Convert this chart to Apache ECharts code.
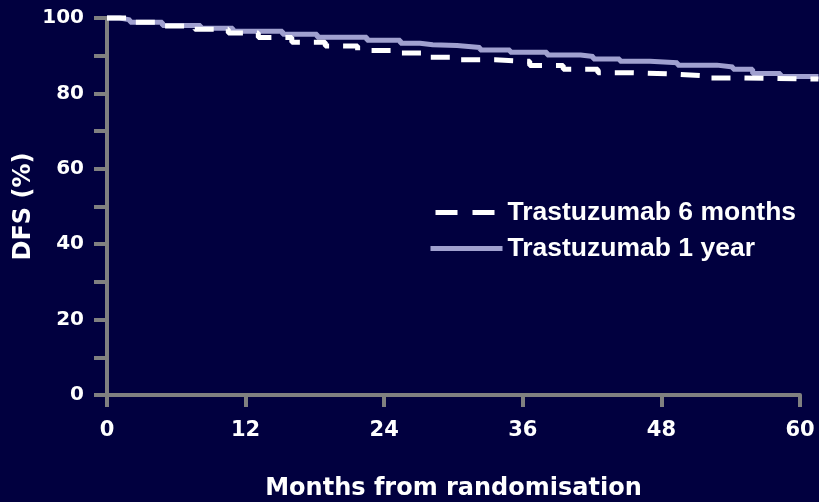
<!DOCTYPE html>
<html>
<head>
<meta charset="utf-8">
<script src="https://cdn.jsdelivr.net/npm/echarts@6/dist/echarts.min.js"></script>
<style>
  html, body { margin: 0; padding: 0; background: #01003f; }
  #chart { width: 819px; height: 502px; }
</style>
</head>
<body>
<div id="chart"></div>
<script>
// Kaplan-Meier disease-free survival, step points [month, DFS %]
const seriesNames = ['Trastuzumab 6 months', 'Trastuzumab 1 year'];
const monthTicks = [0, 12, 24, 36, 48, 60];

const dfs6Months = [
  [0, 100], [1.8, 98.9], [4.6, 97.9], [7.6, 97.0], [10.5, 96.0], [13.1, 94.8],
  [16.0, 93.6], [18.9, 92.6], [21.7, 91.4], [24.7, 90.7], [27.5, 89.6],
  [30.6, 88.9], [33.6, 88.5], [36.6, 87.4], [39.5, 86.4], [42.5, 85.5],
  [45.5, 85.2], [48.6, 84.7], [51.6, 84.1], [54.8, 83.8], [61.6, 83.8]
];

const dfs1Year = [
  [0, 100], [1.1, 99.5], [2.0, 98.9], [4.8, 98.0], [8.1, 97.3], [10.9, 96.5],
  [15.2, 95.7], [18.2, 94.9], [22.5, 94.1], [25.4, 93.3], [27.1, 92.9],
  [28.2, 92.7], [30.3, 92.2], [32.3, 91.5], [34.9, 90.9], [38.1, 90.2],
  [41.0, 89.8], [42.1, 89.1], [44.4, 88.5], [47.0, 88.1], [49.4, 87.5],
  [52.8, 87.0], [54.2, 86.4], [55.9, 85.3], [58.3, 84.5], [61.6, 84.5]
];

const wideFont = '"DejaVu Sans", Verdana, sans-serif';
const legendFont = '"Liberation Sans", Arial, sans-serif';
const axisGray = '#808080';

// Plot area: the drawn axis runs to month 60, the curves continue to the page edge.
const plotLeft = 107, plotTop = 18, plotBottom = 107, axisRight = 19;
const chartWidth = 819;
const axisMax = 60;
const curveMax = axisMax * (chartWidth - plotLeft) / (chartWidth - axisRight - plotLeft);

const chart = echarts.init(document.getElementById('chart'), null, { renderer: 'canvas' });

chart.setOption({
  backgroundColor: '#01003f',
  animation: false,
  grid: [
    { left: plotLeft, right: axisRight, top: plotTop, bottom: plotBottom, outerBoundsMode: 'none' },
    { left: plotLeft, right: 0, top: plotTop, bottom: plotBottom, outerBoundsMode: 'none' }
  ],
  legend: {
    orient: 'vertical',
    left: 428,
    top: 199,
    padding: 0,
    itemWidth: 72,
    itemHeight: 14,
    itemGap: 9,
    itemStyle: { opacity: 0 },
    textStyle: { color: '#ffffff', fontFamily: legendFont, fontWeight: 'bold', fontSize: 26.5 },
    data: [
      { name: seriesNames[0], lineStyle: { type: [22, 15], dashOffset: -5, width: 5 } },
      { name: seriesNames[1], lineStyle: { width: 5 } }
    ]
  },
  xAxis: [
    {
      gridIndex: 0,
      type: 'value',
      min: 0,
      max: axisMax,
      interval: 12,
      name: 'Months from randomisation',
      nameLocation: 'middle',
      nameGap: 82,
      nameMoveOverlap: false,
      nameTextStyle: { color: '#ffffff', fontFamily: wideFont, fontWeight: 'bold', fontSize: 24 },
      axisLine: { show: true, lineStyle: { color: axisGray, width: 4 } },
      axisTick: { show: true, length: 12, lineStyle: { color: axisGray, width: 4 } },
      axisLabel: {
        color: '#ffffff', fontFamily: wideFont, fontWeight: 'bold', fontSize: 21, margin: 25,
        formatter: v => monthTicks.includes(v) ? String(v) : ''
      },
      splitLine: { show: false }
    },
    {
      gridIndex: 1,
      type: 'value',
      min: 0,
      max: curveMax,
      show: false
    }
  ],
  yAxis: [
    {
      gridIndex: 0,
      type: 'value',
      min: 0,
      max: 100,
      interval: 10,
      name: 'DFS (%)',
      nameLocation: 'middle',
      nameGap: 71,
      nameMoveOverlap: false,
      nameRotate: 90,
      nameTextStyle: { color: '#ffffff', fontFamily: wideFont, fontWeight: 'bold', fontSize: 24 },
      axisLine: { show: true, lineStyle: { color: axisGray, width: 4 } },
      axisTick: { show: true, length: 13, lineStyle: { color: axisGray, width: 4 } },
      axisLabel: {
        color: '#ffffff', fontFamily: wideFont, fontWeight: 'bold', fontSize: 20, margin: 23,
        formatter: v => (v % 20 === 0 ? String(v) : '')
      },
      splitLine: { show: false }
    },
    {
      gridIndex: 1,
      type: 'value',
      min: 0,
      max: 100,
      show: false
    }
  ],
  series: [
    {
      name: seriesNames[1],
      type: 'line',
      xAxisIndex: 1,
      yAxisIndex: 1,
      step: 'end',
      clip: false,
      symbol: 'none',
      data: dfs1Year,
      lineStyle: { color: '#a0a0cf', width: 5 },
      itemStyle: { color: '#a0a0cf' },
      z: 2
    },
    {
      name: seriesNames[0],
      type: 'line',
      xAxisIndex: 1,
      yAxisIndex: 1,
      step: 'end',
      clip: false,
      symbol: 'none',
      data: dfs6Months,
      lineStyle: { color: '#ffffff', width: 5, type: [19, 14] },
      itemStyle: { color: '#ffffff' },
      z: 3
    }
  ]
});
</script>
</body>
</html>
